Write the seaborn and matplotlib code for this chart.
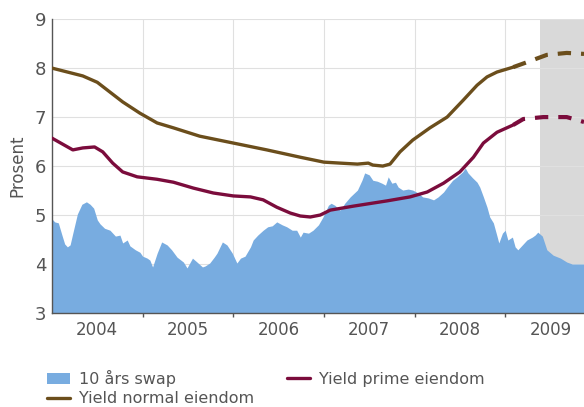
import matplotlib
matplotlib.use("Agg")
import matplotlib.pyplot as plt
from matplotlib.patches import Patch
from matplotlib.lines import Line2D
import numpy as np
import pandas as pd
import seaborn as sns

# 10-year swap rate (decimal years, percent)
swap_year = [2004.00, 2004.03, 2004.07, 2004.11, 2004.14, 2004.17, 2004.20, 2004.23, 2004.28, 2004.33,
             2004.38, 2004.42, 2004.46, 2004.50, 2004.53, 2004.58, 2004.64, 2004.70, 2004.75, 2004.78,
             2004.83, 2004.86, 2004.92, 2004.97, 2005.00, 2005.05, 2005.08, 2005.11, 2005.16, 2005.21,
             2005.27, 2005.32, 2005.38, 2005.45, 2005.49, 2005.55, 2005.60, 2005.66, 2005.69, 2005.74,
             2005.79, 2005.82, 2005.88, 2005.93, 2005.99, 2006.04, 2006.08, 2006.13, 2006.19, 2006.22,
             2006.27, 2006.33, 2006.38, 2006.43, 2006.48, 2006.54, 2006.59, 2006.65, 2006.70, 2006.74,
             2006.77, 2006.83, 2006.88, 2006.94, 2006.99, 2007.05, 2007.08, 2007.12, 2007.18, 2007.23,
             2007.29, 2007.37, 2007.42, 2007.45, 2007.50, 2007.54, 2007.59, 2007.64, 2007.68, 2007.71,
             2007.75, 2007.79, 2007.82, 2007.87, 2007.93, 2007.98, 2008.04, 2008.09, 2008.15, 2008.21,
             2008.26, 2008.32, 2008.36, 2008.42, 2008.47, 2008.53, 2008.56, 2008.59, 2008.64, 2008.69,
             2008.72, 2008.76, 2008.80, 2008.83, 2008.87, 2008.91, 2008.93, 2008.97, 2009.00, 2009.03,
             2009.08, 2009.11, 2009.14, 2009.19, 2009.24, 2009.30, 2009.33, 2009.36, 2009.41, 2009.46,
             2009.53, 2009.61, 2009.68, 2009.74, 2009.87]
swap_rate = [4.92, 4.86, 4.84, 4.59, 4.41, 4.35, 4.39, 4.63, 5.02, 5.22,
             5.27, 5.22, 5.14, 4.90, 4.82, 4.73, 4.69, 4.57, 4.59, 4.43,
             4.49, 4.37, 4.29, 4.24, 4.16, 4.12, 4.08, 3.94, 4.22, 4.45,
             4.39, 4.29, 4.14, 4.04, 3.92, 4.12, 4.04, 3.94, 3.96, 4.02,
             4.14, 4.22, 4.45, 4.39, 4.22, 4.02, 4.12, 4.16, 4.35, 4.49,
             4.59, 4.69, 4.76, 4.78, 4.86, 4.80, 4.76, 4.69, 4.69, 4.55,
             4.65, 4.63, 4.69, 4.80, 4.96, 5.20, 5.24, 5.20, 5.10, 5.24,
             5.37, 5.51, 5.71, 5.86, 5.82, 5.71, 5.69, 5.65, 5.61, 5.78,
             5.65, 5.67, 5.57, 5.51, 5.53, 5.51, 5.45, 5.37, 5.35, 5.31,
             5.37, 5.47, 5.57, 5.71, 5.78, 5.88, 5.96, 5.86, 5.76, 5.67,
             5.57, 5.37, 5.16, 4.96, 4.84, 4.57, 4.43, 4.63, 4.69, 4.49,
             4.55, 4.35, 4.29, 4.39, 4.49, 4.55, 4.59, 4.65, 4.57, 4.29,
             4.18, 4.12, 4.04, 4.00, 4.00]

# Yield, normal property (history, then forecast)
normal_year = [2004.00, 2004.17, 2004.34, 2004.50, 2004.64, 2004.78, 2004.97, 2005.16, 2005.34, 2005.63,
               2006.00, 2006.37, 2006.74, 2007.00, 2007.18, 2007.37, 2007.49, 2007.54, 2007.65, 2007.73,
               2007.84, 2007.98, 2008.17, 2008.36, 2008.54, 2008.69, 2008.80, 2008.91, 2009.09]
normal_yield = [8.00, 7.92, 7.84, 7.71, 7.51, 7.31, 7.08, 6.88, 6.78, 6.61,
                6.47, 6.33, 6.18, 6.08, 6.06, 6.04, 6.06, 6.02, 6.00, 6.04,
                6.29, 6.53, 6.78, 7.00, 7.35, 7.65, 7.82, 7.92, 8.02]
normal_fc_year = [2009.09, 2009.24, 2009.46, 2009.68, 2009.87]
normal_fc_yield = [8.02, 8.12, 8.27, 8.31, 8.29]

# Yield, prime property (history, then forecast)
prime_year = [2004.00, 2004.23, 2004.34, 2004.47, 2004.56, 2004.67, 2004.78, 2004.94, 2005.16, 2005.34,
              2005.56, 2005.78, 2006.00, 2006.19, 2006.33, 2006.48, 2006.63, 2006.74, 2006.85, 2006.96,
              2007.07, 2007.32, 2007.70, 2007.95, 2008.14, 2008.32, 2008.50, 2008.65, 2008.76, 2008.91,
              2009.09]
prime_yield = [6.57, 6.33, 6.37, 6.39, 6.29, 6.06, 5.88, 5.78, 5.73, 5.67,
               5.55, 5.45, 5.39, 5.37, 5.31, 5.16, 5.04, 4.98, 4.96, 5.00,
               5.10, 5.18, 5.29, 5.37, 5.47, 5.65, 5.88, 6.18, 6.47, 6.69,
               6.84]
prime_fc_year = [2009.09, 2009.20, 2009.42, 2009.68, 2009.87]
prime_fc_yield = [6.84, 6.96, 7.00, 7.00, 6.90]

forecast_start = 2009.39
years = [2004, 2005, 2006, 2007, 2008, 2009]

swap_color = "#78ace0"
normal_color = "#6b4e1c"
prime_color = "#7b0c3c"
text_color = "#555555"

sns.set_theme(style="white")
plt.rcParams["font.family"] = ["DejaVu Sans"]

fig = plt.figure(figsize=(5.84, 4.07), dpi=100)
ax = fig.add_axes([0.089, 0.231, 0.911, 0.722])

x_end = 2009.87
ax.axvspan(forecast_start, x_end + 1, color="#d9d9d9", lw=0, zorder=0)

ax.fill_between(swap_year, 3, swap_rate, color=swap_color, lw=0, zorder=2)

df_normal = pd.DataFrame({"year": normal_year, "value": normal_yield})
df_prime = pd.DataFrame({"year": prime_year, "value": prime_yield})
df_normal_fc = pd.DataFrame({"year": normal_fc_year, "value": normal_fc_yield})
df_prime_fc = pd.DataFrame({"year": prime_fc_year, "value": prime_fc_yield})

sns.lineplot(data=df_normal, x="year", y="value", color=normal_color, lw=2.4, ax=ax, zorder=4)
sns.lineplot(data=df_prime, x="year", y="value", color=prime_color, lw=2.4, ax=ax, zorder=4)
for d, c in [(df_normal_fc, normal_color), (df_prime_fc, prime_color)]:
    ax.plot(d["year"], d["value"], color=c, lw=3.0, zorder=4,
            linestyle=(0, (3.2, 2.4)), dash_capstyle="butt")

ax.set_xlim(2004.0, x_end)
ax.set_ylim(3, 9)
ax.set_yticks(range(3, 10))
ax.set_xticks(years[1:])
ax.set_xticks([y + 0.5 for y in years], minor=True)
ax.set_xticklabels([])
ax.set_xticklabels([str(y) for y in years], minor=True)
ax.tick_params(axis="x", which="major", length=3, width=1, color=text_color, direction="out", bottom=True)
ax.tick_params(axis="x", which="minor", length=0, labelsize=12, labelcolor=text_color, pad=6)
ax.tick_params(axis="y", length=0, labelsize=13, labelcolor=text_color, pad=4)

ax.grid(True, which="major", color="#e0e0e0", lw=0.8, zorder=1)
ax.set_axisbelow(True)
for s in ["top", "right"]:
    ax.spines[s].set_visible(False)
for s in ["left", "bottom"]:
    ax.spines[s].set_color("#555555")
    ax.spines[s].set_linewidth(1.0)

ax.set_xlabel("")
ax.set_ylabel("Prosent", fontsize=12, color=text_color, labelpad=6)

handles = [Patch(facecolor=swap_color, edgecolor="none"),
           Line2D([], [], color=normal_color, lw=2.4),
           Line2D([], [], color=prime_color, lw=2.4)]
labels = ["10 års swap", "Yield normal eiendom", "Yield prime eiendom"]
fig.legend(handles, labels, loc="upper left", bbox_to_anchor=(0.08, 0.091), ncol=2,
           frameon=False, fontsize=11.5, labelcolor=text_color, handlelength=1.45,
           handleheight=0.7, handletextpad=0.55, columnspacing=2.1, labelspacing=0.28,
           borderpad=0, borderaxespad=0)

fig.savefig("out.png", dpi=100)
